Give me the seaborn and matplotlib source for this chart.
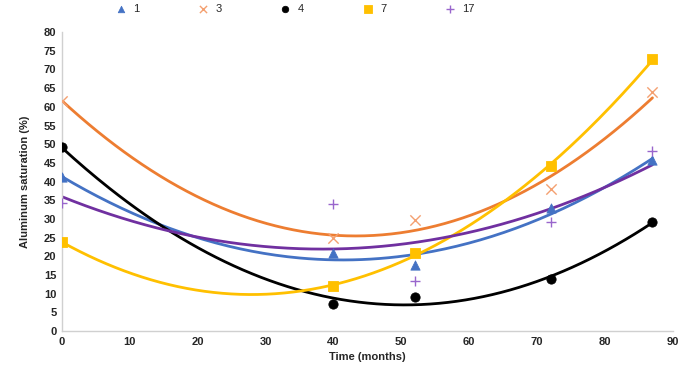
import numpy as np
import pandas as pd
import seaborn as sns
import matplotlib.pyplot as plt

# sampling times (months) and aluminium saturation (%) per treatment
months = [0, 40, 52, 72, 87]
sat_1 = [41.2, 20.9, 17.6, 32.9, 45.7]
sat_3 = [61.5, 24.9, 29.7, 38.0, 63.9]
sat_4 = [49.2, 7.2, 9.1, 13.9, 29.1]
sat_7 = [23.8, 12.0, 20.9, 44.1, 72.7]
sat_17 = [34.2, 34.0, 13.4, 29.1, 48.1]

labels = ['1', '3', '4', '7', '17']
series = [sat_1, sat_3, sat_4, sat_7, sat_17]
line_colors = ['#4472C4', '#ED7D31', '#000000', '#FFC000', '#7030A0']
marker_colors = ['#4472C4', '#F4A070', '#000000', '#FFC000', '#9966CC']
markers = ['^', 'x', 'o', 's', '+']
msizes = [45, 55, 45, 55, 60]

sns.set_style('white')
plt.rcParams['font.family'] = ['Liberation Sans', 'DejaVu Sans']

fig = plt.figure(figsize=(6.81, 3.69), dpi=100)
ax = fig.add_axes([0.091, 0.103, 0.897, 0.81])

xs = np.linspace(0, 87, 200)
for lab, vals, lc, mc, mk, ms in zip(labels, series, line_colors, marker_colors, markers, msizes):
    # second order polynomial trend line through the points
    coef = np.polyfit(months, vals, 2)
    trend = pd.DataFrame({'x': xs, 'y': np.polyval(coef, xs)})
    sns.lineplot(data=trend, x='x', y='y', color=lc, lw=2, ax=ax, legend=False)
    pts = pd.DataFrame({'x': months, 'y': vals})
    kw = dict(edgecolor=mc) if mk not in ('x', '+') else dict(linewidth=1)
    sns.scatterplot(data=pts, x='x', y='y', marker=mk, s=ms, color=mc,
                    ax=ax, label=lab, zorder=3, **kw)

ax.set_xlim(0, 90)
ax.set_ylim(0, 80)
ax.set_xticks(range(0, 91, 10))
ax.set_yticks(range(0, 81, 5))
ax.tick_params(axis='both', labelsize=8, length=0, pad=4)
for t in ax.get_xticklabels() + ax.get_yticklabels():
    t.set_fontweight('bold')
ax.set_xlabel('Time (months)', fontsize=8, fontweight='bold', labelpad=4)
ax.set_ylabel('Aluminum saturation (%)', fontsize=8, fontweight='bold', labelpad=10)

for side in ['top', 'right']:
    ax.spines[side].set_visible(False)
for side in ['left', 'bottom']:
    ax.spines[side].set_color('#D0D0D0')
    ax.spines[side].set_linewidth(1)

handles, _ = ax.get_legend_handles_labels()
ax.legend(handles, labels, loc='center left', bbox_to_anchor=(0.066, 1.077),
          ncol=5, frameon=False, fontsize=8, columnspacing=4.95,
          handlelength=1.5, handletextpad=0.4, markerscale=0.7)

fig.savefig('out.png', dpi=100)
